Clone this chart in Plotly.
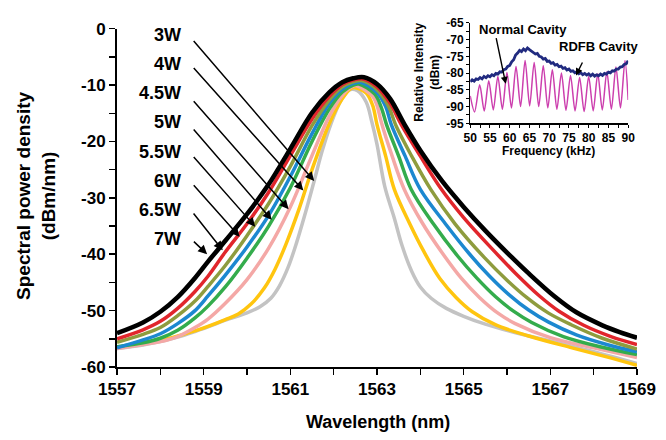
import plotly.graph_objects as go

# ---------------- main chart data (wavelength nm, dBm/nm) ----------------
wl_7W = [1557, 1557.6, 1558.0, 1558.4, 1558.8, 1559.1, 1559.5, 1560.0, 1560.5, 1561.0, 1561.5, 1561.9, 1562.2, 1562.45, 1562.7,
         1563.0, 1563.3, 1563.65, 1564.0, 1564.5, 1565.0, 1565.5, 1566.0, 1566.5, 1567.1, 1567.6, 1568.2, 1568.6, 1569]
db_7W = [-54.0, -52.1, -50.2, -47.6, -44.2, -41.3, -37.6, -32.9, -27.6, -21.3, -14.9, -11.3, -9.5, -8.8, -8.6,
         -9.8, -12.4, -17.2, -21.6, -27.0, -31.6, -35.8, -39.7, -43.4, -47.5, -50.3, -52.6, -53.8, -54.8]

wl_65W = [1557, 1557.6, 1558.0, 1558.4, 1558.8, 1559.1, 1559.5, 1560.0, 1560.5, 1561.0, 1561.5, 1561.9, 1562.2, 1562.45, 1562.68,
          1563.0, 1563.3, 1563.56, 1564.0, 1564.47, 1565.0, 1565.7, 1566.2, 1566.75, 1567.2, 1567.77, 1568.4, 1569]
db_65W = [-55.0, -53.4, -51.9, -49.6, -46.6, -43.9, -39.6, -34.6, -29.0, -22.5, -16.0, -12.0, -9.9, -9.1, -8.9,
          -10.3, -13.2, -17.0, -22.6, -28.3, -33.5, -39.4, -43.4, -47.4, -50.1, -52.6, -54.6, -56.0]

wl_6W = [1557, 1557.6, 1558.0, 1558.4, 1558.8, 1559.1, 1559.5, 1560.0, 1560.5, 1561.0, 1561.5, 1561.9, 1562.2, 1562.45, 1562.65,
         1563.0, 1563.25, 1563.45, 1563.8, 1564.24, 1564.8, 1565.48, 1566.0, 1566.46, 1566.95, 1567.48, 1568.2, 1569]
db_6W = [-55.6, -54.2, -53.0, -50.9, -48.3, -45.7, -42.0, -36.7, -31.0, -24.4, -17.2, -12.6, -10.3, -9.4, -9.2,
         -10.8, -13.5, -17.4, -22.6, -28.5, -34.6, -40.6, -44.6, -47.7, -50.4, -52.5, -54.9, -56.8]

wl_55W = [1557, 1557.6, 1558.0, 1558.4, 1558.8, 1559.1, 1559.5, 1560.0, 1560.5, 1561.0, 1561.5, 1561.9, 1562.2, 1562.45, 1562.62,
          1563.0, 1563.2, 1563.33, 1563.65, 1564.0, 1564.6, 1565.14, 1565.6, 1566.05, 1566.5, 1566.95, 1567.6, 1568.3, 1569]
db_55W = [-56.6, -55.2, -54.1, -52.3, -50.0, -47.4, -43.7, -38.7, -33.1, -26.2, -18.6, -13.2, -10.7, -9.7, -9.5,
          -11.3, -13.8, -17.0, -22.6, -28.5, -34.8, -40.0, -43.9, -47.2, -49.9, -52.0, -54.3, -56.0, -57.3]

wl_5W = [1557, 1557.6, 1558.0, 1558.4, 1558.8, 1559.1, 1559.5, 1560.0, 1560.5, 1561.0, 1561.5, 1561.9, 1562.2, 1562.45, 1562.58,
         1562.95, 1563.1, 1563.22, 1563.5, 1563.79, 1564.3, 1564.87, 1565.3, 1565.73, 1566.15, 1566.57, 1567.3, 1568.2, 1569]
db_5W = [-56.4, -55.7, -54.9, -53.5, -51.3, -49.2, -45.8, -40.7, -35.0, -28.2, -20.0, -14.2, -11.2, -10.0, -9.8,
         -11.6, -14.0, -17.0, -22.6, -28.5, -34.6, -40.4, -44.2, -47.5, -50.1, -52.1, -54.6, -56.5, -57.8]

wl_45W = [1557, 1557.6, 1558.0, 1558.4, 1558.8, 1559.1, 1559.5, 1560.0, 1560.5, 1561.0, 1561.5, 1561.9, 1562.2, 1562.42, 1562.53,
          1562.9, 1563.0, 1563.1, 1563.35, 1563.63, 1564.05, 1564.49, 1564.95, 1565.37, 1565.8, 1566.19, 1567.0, 1568.0, 1569]
db_45W = [-56.7, -56.0, -55.5, -54.6, -53.0, -51.5, -48.7, -44.5, -38.9, -31.6, -22.5, -15.5, -11.8, -10.3, -10.1,
          -12.0, -13.6, -16.6, -22.6, -28.5, -34.5, -39.6, -44.3, -47.7, -50.5, -52.3, -54.8, -56.6, -58.3]

wl_4W = [1557, 1557.6, 1558.0, 1558.4, 1558.8, 1559.1, 1559.5, 1559.8, 1560.1, 1560.4, 1560.65, 1560.9, 1561.2, 1561.5, 1561.9, 1562.2, 1562.38, 1562.47,
         1562.75, 1562.9, 1563.0, 1563.2, 1563.4, 1563.75, 1564.08, 1564.45, 1564.83, 1565.2, 1565.73, 1566.5, 1567.5, 1568.3, 1569]
db_4W = [-56.5, -55.9, -55.3, -54.5, -53.6, -52.8, -51.6, -50.6, -48.8, -46.0, -42.6, -38.2, -32.0, -25.0, -16.8, -12.4, -10.7, -10.4,
         -11.4, -13.6, -17.0, -22.6, -28.5, -34.5, -39.5, -44.3, -47.7, -50.2, -52.5, -54.5, -56.6, -58.2, -59.7]

wl_3W = [1557, 1557.6, 1558.0, 1558.4, 1558.8, 1559.1, 1559.5, 1560.0, 1560.3, 1560.55, 1560.75, 1560.95, 1561.15, 1561.35, 1561.55, 1561.75, 1562.0, 1562.2, 1562.38,
         1562.55, 1562.75, 1562.88, 1563.0, 1563.18, 1563.4, 1563.58, 1563.8, 1564.0, 1564.25, 1564.6, 1565.0, 1565.5, 1566.34, 1567.0, 1568.0, 1569]
db_3W = [-56.7, -56.1, -55.5, -54.7, -53.7, -52.9, -51.7, -50.4, -49.3, -47.8, -45.6, -42.3, -37.8, -32.6, -27.0, -21.3, -15.6, -12.3, -10.8,
         -11.0, -13.0, -16.5, -20.5, -28.0, -33.6, -38.5, -43.0, -45.8, -47.8, -49.6, -51.0, -52.4, -54.2, -55.4, -57.3, -59.4]

series_names = ["3W", "4W", "4.5W", "5W", "5.5W", "6W", "6.5W", "7W"]
series_x = [wl_3W, wl_4W, wl_45W, wl_5W, wl_55W, wl_6W, wl_65W, wl_7W]
series_y = [db_3W, db_4W, db_45W, db_5W, db_55W, db_6W, db_65W, db_7W]
series_colors = ["#C3C3C3", "#FFC50F", "#F4A8A6", "#34AC4C", "#1C88D0", "#8E9C3E", "#E1262C", "#000000"]
series_widths = [3.5, 3.5, 3.5, 3.5, 3.5, 3.5, 3.5, 4.6]

# label arrows: tail (x, y) and head (x, y) in data units
arrow_tail_x = [1558.74] * 8
arrow_tail_y = [-1.9, -6.7, -12.6, -17.6, -22.5, -27.5, -32.5, -37.5]
arrow_head_x = [1561.55, 1561.30, 1560.96, 1560.57, 1560.19, 1559.83, 1559.44, 1559.08]
arrow_head_y = [-27.0, -28.7, -32.0, -33.9, -35.1, -36.9, -39.3, -40.0]
label_text = ["3W", "4W", "4.5W", "5W", "5.5W", "6W", "6.5W", "7W"]

x_ticks = [1557, 1559, 1561, 1563, 1565, 1567, 1569]
y_ticks = [0, -10, -20, -30, -40, -50, -60]
y_ticktext = ["0", "-10", "-20", "-30", "-40", "-50", "-60"]

# ---------------- inset data (kHz, dBm) ----------------
freq_normal = [50 + 0.5 * i for i in range(81)]
int_normal = [-82.6, -82.0, -82.4, -81.7, -81.9, -81.3, -81.7, -81.0, -81.4, -80.8, -81.1, -80.5, -80.8, -80.1, -80.3, -79.6,
              -79.7, -79.0, -78.8, -78.0, -77.7, -76.6, -76.0, -74.6, -74.0, -73.2, -73.6, -72.8, -73.3, -72.5, -73.0, -73.4,
              -73.9, -74.3, -74.1, -75.0, -75.2, -75.8, -75.6, -76.5, -76.4, -77.1, -76.9, -77.6, -77.4, -78.1, -77.9, -78.6,
              -78.4, -79.1, -78.8, -79.5, -79.3, -79.9, -79.6, -80.2, -79.9, -80.5, -80.1, -80.6, -80.2, -80.8, -80.3, -80.9,
              -80.5, -80.8, -80.3, -80.7, -80.1, -80.3, -79.7, -79.9, -79.3, -79.4, -78.8, -78.8, -78.2, -78.1, -77.4, -77.2, -76.3]

freq_rdfb = [50.0, 51.1, 52.4, 53.55, 54.7, 55.85, 57.0, 58.15, 59.3, 60.45, 61.6, 62.75, 63.9, 65.05, 66.2, 67.35, 68.5,
             69.65, 70.8, 71.95, 73.1, 74.25, 75.4, 76.55, 77.7, 78.85, 80.0, 81.15, 82.3, 83.45, 84.6, 85.75, 86.9, 88.05, 89.2, 90.0]
int_rdfb = [-86.8, -91.6, -83.5, -91.3, -82.3, -91.0, -81.0, -90.8, -79.8, -90.4, -78.0, -90.0, -76.2, -89.8, -76.8, -90.0, -77.8,
            -90.4, -79.0, -90.8, -80.0, -91.1, -80.7, -91.3, -81.3, -91.5, -81.0, -91.3, -80.2, -91.0, -79.6, -90.8, -78.2, -90.4, -76.2, -88.0]

inset_x_ticks = [50, 55, 60, 65, 70, 75, 80, 85, 90]
inset_y_ticks = [-65, -70, -75, -80, -85, -90, -95]
inset_y_ticktext = ["-65", "-70", "-75", "-80", "-85", "-90", "-95"]

FONT = "Liberation Sans, Arial, sans-serif"

fig = go.Figure()

for name, xs, ys, col, w in zip(series_names, series_x, series_y, series_colors, series_widths):
    fig.add_trace(go.Scatter(x=xs, y=ys, mode="lines", name=name,
                             line=dict(color=col, width=w, shape="spline", smoothing=1.0),
                             xaxis="x", yaxis="y", showlegend=False, hoverinfo="skip"))

fig.add_trace(go.Scatter(x=freq_rdfb, y=int_rdfb, mode="lines", name="RDFB Cavity",
                         line=dict(color="#CC3FAE", width=1.5, shape="spline", smoothing=0.8),
                         xaxis="x2", yaxis="y2", showlegend=False))
fig.add_trace(go.Scatter(x=freq_normal, y=int_normal, mode="lines", name="Normal Cavity",
                         line=dict(color="#212B80", width=2.8),
                         xaxis="x2", yaxis="y2", showlegend=False))

L, R, T, B = 117, 19, 10, 73
W, H = 666, 440
pw, ph = W - L - R, H - T - B


def pxx(x):
    return (x - L) / pw


def pxy(y):
    return (H - B - y) / ph


annotations = []
label_y_px = [26, 56, 86, 116, 146, 176, 206, 236]
for t, yp in zip(label_text, label_y_px):
    annotations.append(dict(text=t, x=pxx(184), y=pxy(yp), xref="paper", yref="paper",
                            xanchor="right", yanchor="middle", showarrow=False,
                            font=dict(family=FONT, size=18, color="black", weight="bold")))
for tx, ty, hx, hy in zip(arrow_tail_x, arrow_tail_y, arrow_head_x, arrow_head_y):
    annotations.append(dict(text="", x=hx, y=hy, xref="x", yref="y", ax=tx, ay=ty, axref="x", ayref="y",
                            showarrow=True, arrowhead=2, arrowsize=1.2, arrowwidth=1.5, arrowcolor="black",
                            standoff=0, startstandoff=0))

# axis titles
annotations.append(dict(text="Wavelength (nm)", x=pxx(383), y=pxy(423), xref="paper", yref="paper",
                        xanchor="center", yanchor="middle", showarrow=False,
                        font=dict(family=FONT, size=18, color="black", weight="bold")))
annotations.append(dict(text="Spectral power density<br>(dBm/nm)", x=pxx(35), y=pxy(192), xref="paper", yref="paper",
                        xanchor="center", yanchor="middle", showarrow=False, textangle=-90,
                        font=dict(family=FONT, size=19, color="black", weight="bold")))

# inset texts
annotations.append(dict(text="Relative Intensity<br>(dBm)", x=pxx(433), y=pxy(65), xref="paper", yref="paper",
                        xanchor="center", yanchor="middle", showarrow=False, textangle=-90,
                        font=dict(family=FONT, size=12, color="black", weight="bold")))
annotations.append(dict(text="Frequency (kHz)", x=pxx(557), y=pxy(145), xref="paper", yref="paper",
                        xanchor="center", yanchor="middle", showarrow=False,
                        font=dict(family=FONT, size=12, color="black", weight="bold")))
annotations.append(dict(text="Normal Cavity", x=pxx(531), y=pxy(21), xref="paper", yref="paper",
                        xanchor="center", yanchor="middle", showarrow=False,
                        font=dict(family=FONT, size=13, color="black", weight="bold")))
annotations.append(dict(text="RDFB Cavity", x=pxx(608), y=pxy(38), xref="paper", yref="paper",
                        xanchor="center", yanchor="middle", showarrow=False,
                        font=dict(family=FONT, size=13, color="black", weight="bold")))
annotations.append(dict(text="", x=59.0, y=-83.2, xref="x2", yref="y2", ax=56.5, ay=-69.1, axref="x2", ayref="y2",
                        showarrow=True, arrowhead=2, arrowsize=1.0, arrowwidth=1.4, arrowcolor="black", standoff=0))
annotations.append(dict(text="", x=76.8, y=-80.7, xref="x2", yref="y2", ax=78.6, ay=-76.4, axref="x2", ayref="y2",
                        showarrow=True, arrowhead=2, arrowsize=1.0, arrowwidth=1.4, arrowcolor="black", standoff=0))

main_top = pxy(20)
fig.update_layout(
    width=W, height=H,
    margin=dict(l=L, r=R, t=T, b=B),
    paper_bgcolor="white", plot_bgcolor="white",
    font=dict(family=FONT, color="black"),
    showlegend=False,
    xaxis=dict(domain=[0, 1], range=[1557, 1569], tickvals=x_ticks, ticks="outside", ticklen=6, tickwidth=1.5,
               tickcolor="black", showline=True, linecolor="black", linewidth=2, showgrid=False, zeroline=False,
               minor=dict(dtick=1, tick0=1557, ticks="outside", ticklen=6, tickwidth=1.5, tickcolor="black", showgrid=False),
               tickfont=dict(family=FONT, size=17, color="black", weight="bold"), anchor="y"),
    yaxis=dict(domain=[0, main_top], range=[-60, 0], tickvals=y_ticks, ticktext=y_ticktext, ticks="outside", ticklen=6,
               tickwidth=1.5, tickcolor="black", showline=True, linecolor="black", linewidth=2, showgrid=False,
               zeroline=False,
               minor=dict(dtick=5, tick0=0, ticks="outside", ticklen=6, tickwidth=1.5, tickcolor="black", showgrid=False),
               tickfont=dict(family=FONT, size=17, color="black", weight="bold"), anchor="x"),
    xaxis2=dict(domain=[pxx(477), pxx(638)], range=[50, 90], tickvals=inset_x_ticks, ticks="outside", ticklen=3,
                tickwidth=1, tickcolor="black", showline=True, linecolor="black", linewidth=1.2, showgrid=False,
                zeroline=False,
                minor=dict(dtick=2.5, tick0=50, ticks="outside", ticklen=3, tickwidth=1, tickcolor="black", showgrid=False),
                tickfont=dict(family=FONT, size=12, color="black", weight="bold"), anchor="y2"),
    yaxis2=dict(domain=[pxy(117), pxy(14)], range=[-95, -65], tickvals=inset_y_ticks, ticktext=inset_y_ticktext,
                ticks="outside", ticklen=3, tickwidth=1, tickcolor="black", showline=True, linecolor="black",
                linewidth=1.2, showgrid=False, zeroline=False,
                minor=dict(dtick=2.5, tick0=-95, ticks="outside", ticklen=3, tickwidth=1, tickcolor="black", showgrid=False),
                tickfont=dict(family=FONT, size=12, color="black", weight="bold"), anchor="x2"),
    annotations=annotations,
)

fig.write_html("out.html", config={"displayModeBar": False, "staticPlot": True},
               post_script="document.body.style.margin='0';document.body.style.overflow='hidden';")
